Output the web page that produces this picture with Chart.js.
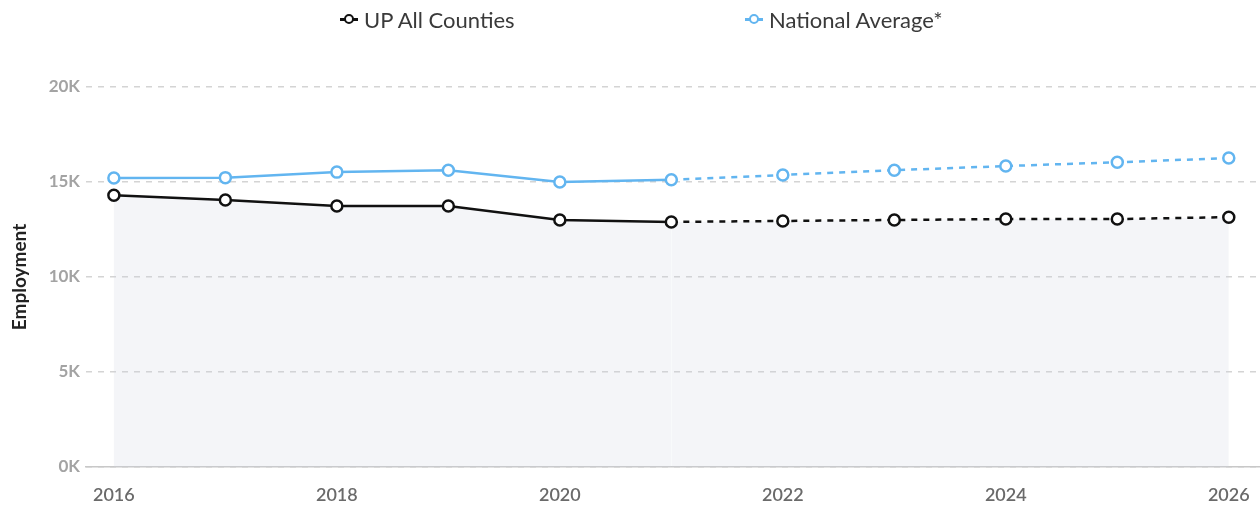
<!DOCTYPE html>
<html>
<head>
<meta charset="utf-8">
<script src="https://cdn.jsdelivr.net/npm/chart.js@4/dist/chart.umd.min.js"></script>
<style>
  html, body { margin: 0; padding: 0; background: #fff; }
  #wrap { position: relative; width: 1260px; height: 508px; }
  #legend { position: absolute; top: 0; left: 0; width: 1260px; height: 40px; font-family: Lato, sans-serif; font-size: 22px; color: #3a3a3a; }
  .item { position: absolute; top: 6px; display: flex; align-items: center; white-space: nowrap; }
  .icon { position: relative; width: 18px; height: 12px; margin-right: 6px; }
  .icon .ln { position: absolute; left: 0; top: 4.5px; width: 18px; height: 3px; }
  .icon .ci { position: absolute; top: 0.5px; width: 6px; height: 6px; border-radius: 50%; border: 2.5px solid; background: #fff; }
  canvas { position: absolute; top: 0; left: 0; }
</style>
</head>
<body>
<div id="wrap">
  <canvas id="c" width="1260" height="508"></canvas>
  <div id="legend"></div>
</div>
<script>
const years = [2016, 2017, 2018, 2019, 2020, 2021, 2022, 2023, 2024, 2025, 2026];
const upValues = [14300, 14050, 13740, 13740, 13000, 12900, 12950, 13000, 13050, 13050, 13150];
const nationalValues = [15210, 15230, 15520, 15620, 15000, 15120, 15370, 15620, 15840, 16040, 16260];
const seriesNames = ['UP All Counties', 'National Average*'];
const yTicks = [0, 5000, 10000, 15000, 20000];
const xTicks = [2016, 2018, 2020, 2022, 2024, 2026];
const lastActualIndex = 5;

const blackColor = '#111111';
const blueColor = '#62b5f0';

// HTML legend
const legendEl = document.getElementById('legend');
[[seriesNames[0], blackColor, 340], [seriesNames[1], blueColor, 745]].forEach(([name, col, x]) => {
  const it = document.createElement('div');
  it.className = 'item';
  it.style.left = x + 'px';
  it.innerHTML = '<span class="icon"><span class="ln" style="background:' + col + '"></span><span class="ci" style="border-color:' + col + ';left:3.5px"></span></span><span>' + name + '</span>';
  legendEl.appendChild(it);
});

const toPts = vals => years.map((y, i) => ({ x: y, y: vals[i] }));
const dashSeg = { borderDash: ctx => ctx.p0DataIndex >= lastActualIndex ? [6, 6] : undefined };

new Chart(document.getElementById('c'), {
  type: 'line',
  data: {
    datasets: [
      {
        label: seriesNames[1],
        data: toPts(nationalValues),
        borderColor: blueColor,
        backgroundColor: '#ffffff',
        pointBackgroundColor: '#ffffff',
        pointBorderColor: blueColor,
        pointRadius: 5.5,
        pointBorderWidth: 2.5,
        borderWidth: 2.5,
        fill: false,
        tension: 0,
        segment: dashSeg
      },
      {
        label: seriesNames[0],
        data: toPts(upValues),
        borderColor: blackColor,
        backgroundColor: 'rgba(205,210,222,0.22)',
        pointBackgroundColor: '#ffffff',
        pointBorderColor: blackColor,
        pointRadius: 5.5,
        pointBorderWidth: 2.5,
        borderWidth: 2.5,
        fill: 'origin',
        tension: 0,
        segment: dashSeg
      }
    ]
  },
  options: {
    responsive: false,
    animation: false,
    layout: { autoPadding: false, padding: { top: 87, left: 0, right: 0, bottom: 0 } },
    plugins: { legend: { display: false }, tooltip: { enabled: false } },
    scales: {
      x: {
        type: 'linear',
        min: 2015.75,
        max: 2026.28,
        afterBuildTicks: ax => { ax.ticks = xTicks.map(v => ({ value: v })); },
        afterFit: s => { s.height = 41; s.paddingRight = 0; s.paddingLeft = 0; },
        ticks: {
          callback: v => String(v),
          color: '#6a6a6a',
          font: { family: 'Lato', size: 18, weight: '600' },
          padding: 17,
          maxRotation: 0,
          autoSkip: false
        },
        grid: { display: false, drawTicks: false },
        border: { display: true, color: '#c8c8c8', width: 1.5 }
      },
      y: {
        min: 0,
        max: 20000,
        afterBuildTicks: ax => { ax.ticks = yTicks.map(v => ({ value: v })); },
        afterFit: s => { s.width = 86; s.paddingBottom = 0; s.paddingTop = 0; },
        ticks: {
          callback: v => (v / 1000) + 'K',
          color: '#a3a3a3',
          font: { family: 'Lato', size: 17, weight: 'bold' },
          padding: 6
        },
        grid: { color: '#d4d4d4', lineWidth: 1.5, drawTicks: false, tickBorderDash: [6, 6] },
        border: { display: false, dash: [6, 6] },
        title: {
          display: true,
          text: 'Employment',
          color: '#222',
          font: { family: 'Lato', size: 19, weight: 'bold' },
          padding: { top: 8, bottom: 0 }
        }
      }
    }
  }
});
</script>
</body>
</html>
